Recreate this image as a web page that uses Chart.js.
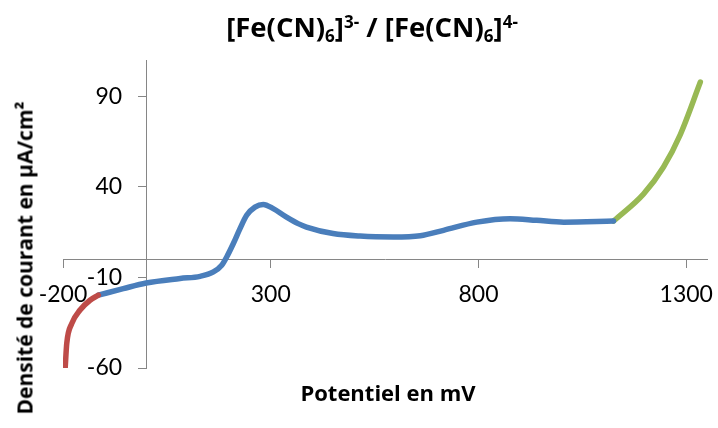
<!DOCTYPE html>
<html>
<head>
<meta charset="utf-8">
<script src="https://cdn.jsdelivr.net/npm/chart.js@4.4.1/dist/chart.umd.min.js"></script>
<style>
  html, body { margin: 0; padding: 0; background: #fff; }
  #wrap { position: relative; width: 718px; height: 428px; }
  .lbl {
    position: absolute; white-space: nowrap; color: #000; line-height: 1;
    font-family: "Open Sans", sans-serif; font-weight: bold;
  }
  #title { left: 372px; top: 27px; font-size: 27.5px; transform: translate(-50%, -50%); }
  #title sub, #title sup { font-size: 0.62em; line-height: 0; }
  #title sub { vertical-align: -0.3em; }
  #title sup { vertical-align: 0.55em; }
  #xtitle { left: 388px; top: 392px; font-size: 22px; transform: translate(-50%, -50%); }
  #ytitle { left: 25px; top: 258px; font-size: 21px; transform: translate(-50%, -50%) rotate(-90deg); }
</style>
</head>
<body>
<div id="wrap">
  <canvas id="chart" width="718" height="428"></canvas>
  <div class="lbl" id="title">[Fe(CN)<sub>6</sub>]<sup>3-</sup> / [Fe(CN)<sub>6</sub>]<sup>4-</sup></div>
  <div class="lbl" id="xtitle">Potentiel en mV</div>
  <div class="lbl" id="ytitle">Densité de courant en µA/cm²</div>
</div>
<script>
// potentiel (mV) / densité de courant (µA/cm²)
const redX = [-195, -191, -179, -159, -135, -115];
const redY = [-61, -46.5, -35.5, -28, -22.6, -19.8];

const blueX = [-115, -55, 0, 82, 130, 162, 182, 194, 210, 226, 242, 262, 282, 306, 338, 366, 386, 450, 515, 595, 660, 716, 796, 876, 940, 1005, 1125];
const blueY = [-19.8, -16.2, -13.1, -10.6, -9.4, -7, -3.3, 1.3, 8.7, 16.9, 24.3, 28.8, 30.3, 28, 23.3, 19.7, 17.8, 14.2, 12.8, 12.3, 13, 16, 20.5, 22.4, 21.5, 20.5, 21.1];

const greenX = [1125, 1197, 1245, 1286, 1334];
const greenY = [21.1, 36, 50.8, 69, 97.8];

const xTicks = [-200, 300, 800, 1300];
const yTicks = [-60, -10, 40, 90];

const toPoints = (xs, ys) => xs.map((x, i) => ({ x: x, y: ys[i] }));

function lineSet(xs, ys, color) {
    return {
        data: toPoints(xs, ys),
        showLine: true,
        borderColor: color,
        borderWidth: 5.5,
        borderCapStyle: 'round',
        pointRadius: 0,
        cubicInterpolationMode: 'monotone'
    };
}

const axisGrey = '#868686';
const tickFont = { family: 'Lato', size: 23 };

// chart.js puts y labels flush against an axis placed at a data value,
// so push them left by hand
const yLabelGap = 24;
const shiftYLabels = {
    id: 'shiftYLabels',
    beforeDraw(chart) {
        const s = chart.scales.y;
        s._labelItems = s._computeLabelItems(chart.chartArea);
        s._labelItems.forEach(it => { it.options.translation[0] -= yLabelGap; });
    }
};

// labels may overflow the plot box, keep the box where the padding says
const noOverflow = s => { s.paddingLeft = 0; s.paddingRight = 0; s.paddingTop = 0; s.paddingBottom = 0; };

new Chart(document.getElementById('chart'), {
    type: 'scatter',
    data: {
        datasets: [
            lineSet(redX, redY, '#be4b48'),
            lineSet(blueX, blueY, '#4a7ebb'),
            lineSet(greenX, greenY, '#98b954')
        ]
    },
    options: {
        responsive: false,
        animation: false,
        layout: { padding: { left: 63, right: 11, top: 60, bottom: 60 } },
        plugins: { legend: { display: false }, tooltip: { enabled: false } },
        scales: {
            x: {
                type: 'linear',
                position: { y: 0 },
                min: -200,
                max: 1350,
                afterBuildTicks: s => { s.ticks = xTicks.map(v => ({ value: v })); },
                afterFit: noOverflow,
                ticks: { font: tickFont, color: '#000', padding: 13, maxRotation: 0, callback: v => String(v) },
                grid: { drawOnChartArea: false, tickLength: 8, color: axisGrey },
                border: { color: axisGrey }
            },
            y: {
                type: 'linear',
                position: { x: 0 },
                min: -60,
                max: 110,
                afterBuildTicks: s => { s.ticks = yTicks.map(v => ({ value: v })); },
                afterFit: noOverflow,
                ticks: { font: tickFont, color: '#000', callback: v => String(v) },
                grid: { drawOnChartArea: false, tickLength: 8, color: axisGrey },
                border: { color: axisGrey }
            }
        }
    },
    plugins: [shiftYLabels]
});
</script>
</body>
</html>
